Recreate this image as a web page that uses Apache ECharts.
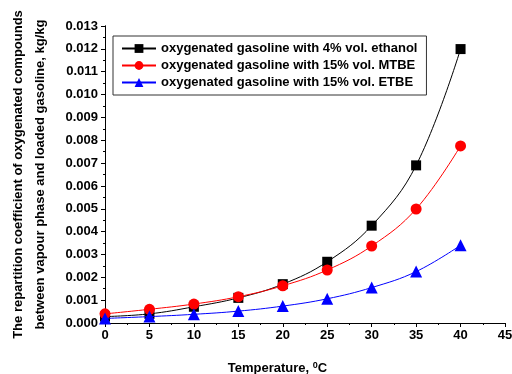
<!DOCTYPE html>
<html><head><meta charset="utf-8">
<script src="https://cdn.jsdelivr.net/npm/echarts@6/dist/echarts.min.js"></script>
<style>html,body{margin:0;padding:0;background:#fff}#c{width:512px;height:374px}</style>
</head><body><div id="c"></div>
<script>
const temps = [0, 5, 10, 15, 20, 25, 30, 35, 40];
const ethanol = [0.00028, 0.0004, 0.00071, 0.0011, 0.0017, 0.00268, 0.00426, 0.0069, 0.01199];
const mtbe = [0.0004, 0.0006, 0.00083, 0.00115, 0.00163, 0.00232, 0.00337, 0.00499, 0.00775];
const etbe = [0.0002, 0.00028, 0.00038, 0.00052, 0.00074, 0.00106, 0.00155, 0.00225, 0.0034];
const names = ['oxygenated gasoline with 4% vol. ethanol', 'oxygenated gasoline with 15% vol. MTBE', 'oxygenated gasoline with 15% vol. ETBE'];
const yTicks = ['0.000','0.001','0.002','0.003','0.004','0.005','0.006','0.007','0.008','0.009','0.010','0.011','0.012','0.013'];

const font = 'Liberation Sans, Arial, sans-serif';
const chart = echarts.init(document.getElementById('c'));
const mk = (arr) => temps.map((t, i) => [t, arr[i]]);
const axisCommon = {
  axisLine: {show: true, lineStyle: {color: '#000', width: 1}},
  axisTick: {show: true, length: 4, lineStyle: {color: '#000'}},
  minorTick: {show: true, splitNumber: 2, length: 2, lineStyle: {color: '#000'}},
  splitLine: {show: false}
};
chart.setOption({
  animation: false,
  textStyle: {fontFamily: font},
  grid: {left: 105, right: 7, top: 26, bottom: 51, outerBoundsMode: 'none', containLabel: false},
  legend: {
    orient: 'vertical', left: 113, top: 36, itemGap: 4, itemWidth: 34, itemHeight: 11,
    borderColor: '#333', borderWidth: 1, padding: [6, 9, 6, 8],
    textStyle: {fontFamily: font, fontWeight: 'bold', fontSize: 13, color: '#000'},
    data: names
  },
  xAxis: [{
    type: 'value', min: 0, max: 45, interval: 5,
    name: 'Temperature, {s|0}C', nameLocation: 'middle', nameGap: 38,
    nameTextStyle: {fontFamily: font, fontWeight: 'bold', fontSize: 13, color: '#000', padding: [0, 55, 0, 0],
      rich: {s: {fontSize: 9, fontWeight: 'bold', verticalAlign: 'top', padding: [0, 0, 6, 0]}}},
    axisLabel: {fontFamily: font, fontWeight: 'bold', fontSize: 13, color: '#000', margin: 6},
    ...axisCommon
  }, {
    type: 'value', min: 0, max: 45, interval: 5, position: 'top',
    axisLine: {show: true, lineStyle: {color: '#000'}}, axisTick: {show: false}, axisLabel: {show: false}, splitLine: {show: false}
  }],
  yAxis: [{
    type: 'value', min: 0, max: 0.013, interval: 0.001,
    name: 'The repartition coefficient of oxygenated compounds\nbetween vapour phase and loaded gasoline, kg/kg',
    nameLocation: 'middle', nameGap: 54,
    nameTextStyle: {fontFamily: font, fontWeight: 'bold', fontSize: 13, color: '#000', lineHeight: 22},
    axisLabel: {fontFamily: font, fontWeight: 'bold', fontSize: 13, color: '#000', margin: 7,
      formatter: (v) => yTicks[Math.round(v * 1000)]},
    ...axisCommon
  }, {
    type: 'value', min: 0, max: 0.013, interval: 0.001, position: 'right',
    axisLine: {show: true, lineStyle: {color: '#000'}}, axisTick: {show: false}, axisLabel: {show: false}, splitLine: {show: false}
  }],
  series: [
    {name: names[0], type: 'line', smooth: 0.4, data: mk(ethanol), symbol: 'rect', symbolSize: 10,
     itemStyle: {color: '#000'}, lineStyle: {color: '#000', width: 1}, z: 3},
    {name: names[1], type: 'line', smooth: 0.4, data: mk(mtbe), symbol: 'circle', symbolSize: 11,
     itemStyle: {color: '#ff0000'}, lineStyle: {color: '#ff0000', width: 1}, z: 4},
    {name: names[2], type: 'line', smooth: 0.4, data: mk(etbe), symbol: 'triangle', symbolSize: 12,
     itemStyle: {color: '#0000ff'}, lineStyle: {color: '#0000ff', width: 1}, z: 5}
  ]
});
</script></body></html>
